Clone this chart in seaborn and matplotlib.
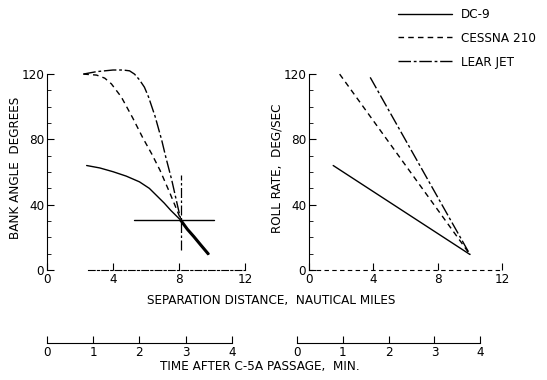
import numpy as np
import pandas as pd
import seaborn as sns
import matplotlib.pyplot as plt
from matplotlib.lines import Line2D
from matplotlib.ticker import MultipleLocator

aircraft = ["DC-9", "CESSNA 210", "LEAR JET"]

# bank angle vs separation distance (left panel)
bank_dc9_x = [2.4, 3.2, 4.0, 4.8, 5.6, 6.2, 6.7, 7.1, 7.5, 8.1, 8.5, 8.9, 9.3, 9.8]
bank_dc9_y = [64, 62.5, 60.2, 57.5, 54, 50, 45, 41, 36.5, 30.5, 25, 20.4, 15.5, 9.5]
bank_cessna_x = [2.2, 3.0, 3.5, 3.9, 4.5, 5.2, 5.8, 6.35, 6.85, 7.45, 7.94, 8.1]
bank_cessna_y = [120, 119.4, 117.5, 114, 106, 93, 81, 71, 61, 47, 35, 31]
bank_lear_x = [2.2, 3.0, 4.0, 4.6, 5.0, 5.3, 5.6, 5.9, 6.15, 6.55, 6.95, 7.2, 7.56, 7.85, 8.1]
bank_lear_y = [120, 121.5, 122.5, 122.5, 122, 120, 116.5, 112, 106, 94, 79.5, 69, 55, 42, 31]

# roll rate vs separation distance (right panel)
roll_dc9_x = [1.5, 10.0]
roll_dc9_y = [64, 9.5]
roll_cessna_x = [1.9, 10.0]
roll_cessna_y = [120, 9.5]
roll_lear_x = [3.8, 10.0]
roll_lear_y = [118, 9.5]

# crosshair on the bank angle panel
cross_x = 8.1
cross_y = 30.6

dist_ticks = [0, 4, 8, 12]
y_ticks = [0, 40, 80, 120]
time_ticks = [0, 1, 2, 3, 4]

sns.set_style("ticks")
plt.rcParams["font.family"] = ["DejaVu Sans"]
plt.rcParams["font.stretch"] = "condensed"
plt.rcParams["font.size"] = 9.6
plt.rcParams["text.color"] = "black"
plt.rcParams["axes.labelcolor"] = "black"
plt.rcParams["xtick.color"] = "black"
plt.rcParams["ytick.color"] = "black"
plt.rcParams["axes.edgecolor"] = "black"

dashes = {"DC-9": "", "CESSNA 210": (4, 3), "LEAR JET": (9, 2, 2, 2)}


def make_df(xs, ys):
    rows = []
    for name, x, y in zip(aircraft, xs, ys):
        for i, (a, b) in enumerate(zip(x, y)):
            rows.append({"aircraft": name, "dist": a, "val": b, "order": i})
    return pd.DataFrame(rows)


bank = make_df([bank_dc9_x, bank_cessna_x, bank_lear_x],
               [bank_dc9_y, bank_cessna_y, bank_lear_y])
roll = make_df([roll_dc9_x, roll_cessna_x, roll_lear_x],
               [roll_dc9_y, roll_cessna_y, roll_lear_y])

fig = plt.figure(figsize=(5.47, 3.8), dpi=100)
ax1 = fig.add_axes([0.086, 0.2895, 0.362, 0.537])
ax2 = fig.add_axes([0.565, 0.2895, 0.353, 0.537])

for ax, df in [(ax1, bank), (ax2, roll)]:
    sns.lineplot(data=df, x="dist", y="val", style="aircraft", dashes=dashes,
                 color="black", linewidth=1.0, legend=False, sort=False,
                 estimator=None, ax=ax)
    ax.set_xlim(0, 12)
    ax.set_ylim(0, 125)
    ax.set_xticks(dist_ticks)
    ax.set_yticks(y_ticks)
    ax.yaxis.set_minor_locator(MultipleLocator(10))
    ax.tick_params(direction="in", length=5, width=0.8, pad=2)
    ax.tick_params(which="minor", direction="in", length=3, width=0.6)
    ax.spines["top"].set_visible(False)
    ax.spines["right"].set_visible(False)
    ax.spines["left"].set_bounds(0, 120)
    ax.set_xlabel("")
    ax.set_ylabel("")
    ax.patch.set_alpha(0)

ax1.spines["bottom"].set_bounds(2.5, 12)
ax1.spines["bottom"].set_linestyle((0, (6, 2, 2, 2)))
ax2.spines["bottom"].set_linestyle((0, (3, 4)))

# heavy common segment on the bank angle panel
ax1.plot(bank_dc9_x[9:], bank_dc9_y[9:], color="black", lw=2.2, solid_capstyle="butt")
# crosshair
ax1.plot([5.3, 10.1], [cross_y, cross_y], color="black", lw=1.0)
ax1.plot([cross_x, cross_x], [12, 58], color="black", lw=0.9, dashes=(8, 2, 2, 2))

ax1.set_ylabel("BANK ANGLE  DEGREES")
ax1.yaxis.set_label_coords(-0.126, 0.5)
ax2.set_ylabel("ROLL RATE,  DEG/SEC")
ax2.yaxis.set_label_coords(-0.13, 0.5)

fig.text(0.495, 0.21, "SEPARATION DISTANCE,  NAUTICAL MILES", ha="center", va="center")

# time scales
for left, width in [(0.086, 0.338), (0.543, 0.335)]:
    tax = fig.add_axes([left, 0.097, width, 0.001])
    tax.set_xlim(0, 4)
    tax.set_xticks(time_ticks)
    tax.set_yticks([])
    tax.tick_params(direction="in", length=5, width=0.8, pad=2)
    for s in ["top", "left", "right"]:
        tax.spines[s].set_visible(False)
    tax.patch.set_alpha(0)
fig.text(0.475, 0.035, "TIME AFTER C-5A PASSAGE,  MIN.", ha="center", va="center")

# legend
handles = [Line2D([0], [0], color="black", lw=1.0, linestyle="-"),
           Line2D([0], [0], color="black", lw=1.0, dashes=dashes["CESSNA 210"]),
           Line2D([0], [0], color="black", lw=1.0, dashes=dashes["LEAR JET"])]
fig.legend(handles, aircraft, loc="upper left", bbox_to_anchor=(0.706, 1.01),
           frameon=False, handlelength=4.0, labelspacing=0.8, handletextpad=0.7)

fig.savefig("out.png", dpi=100)
